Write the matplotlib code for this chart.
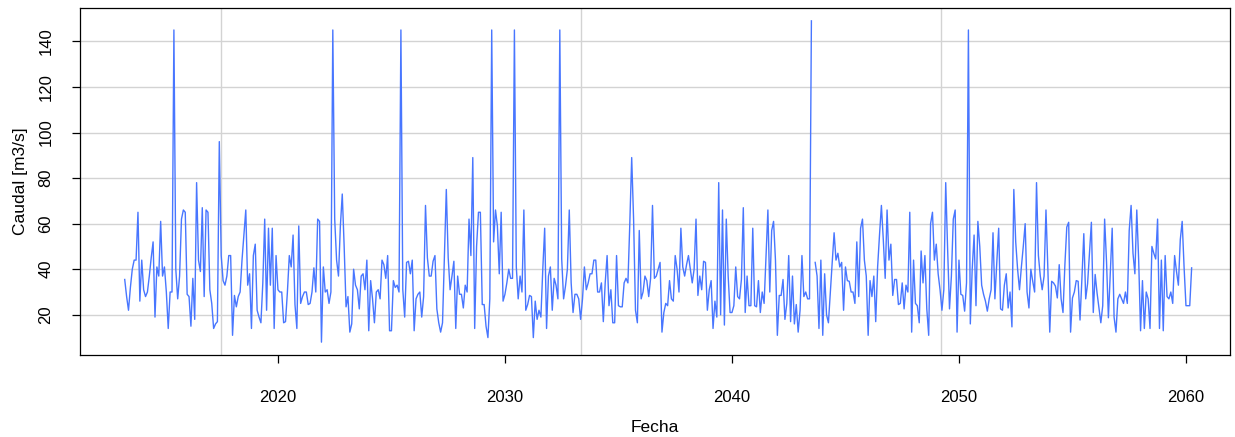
import matplotlib
matplotlib.use("Agg")
import matplotlib.pyplot as plt
import numpy as np

# Serie mensual de caudal, abril 2013 - abril 2060
inicio_anio = 2013
inicio_mes = 4

caudal = [
    35.5, 28, 22, 32, 40, 44, 44, 65, 26, 44, 31, 28, 30, 37, 45, 52, 19, 41, 37, 61, 37, 41, 30, 14, 30,
    30, 145, 40, 27, 37, 62, 66, 65, 29, 28, 15, 36, 18, 78, 44, 39, 67, 28, 66, 65,
    31, 25, 14, 16, 17, 96, 46, 35, 33, 37, 46, 46, 11, 28.5, 23.5, 28, 30, 44, 55, 66, 33, 38, 14, 46,
    51, 22, 19, 16.5, 34, 62, 22, 58, 33, 58, 14, 46, 31, 30, 30, 16.5, 17, 30, 46, 41, 55, 24.5, 14, 59,
    25, 28, 30, 30, 24.5, 25, 30, 40.6, 30, 62, 61, 8, 41, 30, 31, 25, 30, 145, 62, 44, 37, 59, 73, 50,
    23.5, 28, 12.4, 16, 40, 33, 31, 22.6, 37, 38, 31, 44, 13, 35, 27, 16.5, 30, 31, 27, 44, 42, 36, 46, 13,
    13, 35, 32, 33, 30, 145, 31, 19, 43, 43.5, 38, 44, 13, 27, 29, 30, 19, 28, 68, 45, 37, 37, 43.5, 46,
    22.6, 16.5, 12.4, 16.5, 45, 75, 45, 31, 37, 43.5, 14, 37, 29, 29, 23, 33, 30, 62, 46, 89, 14, 50, 65,
    65, 24.5, 24.5, 15, 10, 27, 145, 52, 66, 59, 38, 65, 26, 29, 34, 40, 36, 36, 145, 41, 27, 37, 30, 66,
    22, 24.5, 28.5, 28, 10, 26, 18, 22, 19, 40, 58, 14, 37, 41, 22, 36, 33, 27, 145, 44.5, 27, 32.6, 40, 66,
    34, 21, 29, 29, 27, 18, 27, 41, 31, 34, 38, 38, 44, 44, 30, 30, 34, 17, 34, 46, 24, 31, 16.5, 16.5,
    46, 24, 23.5, 23.5, 34, 36, 34, 60, 89, 62, 22, 16.5, 57, 27, 30, 37, 35, 28, 36, 68, 36, 37, 40,
    43, 12.4, 21, 25, 24, 35, 27, 26, 46, 40, 30, 58, 41, 37, 42, 46, 40, 34, 40, 62, 28.5, 37, 31, 43.5,
    43, 22, 31, 35, 14, 26, 19, 78, 20, 66, 15.5, 62, 37, 21, 21, 24, 41, 28, 27, 35.5, 67, 21, 37, 24,
    24, 58, 24, 23.5, 35, 21, 30, 25, 45, 66, 30, 57, 61, 44, 11, 28.5, 28.5, 35.5, 18, 25, 46, 17, 37, 16,
    24.5, 12.4, 22, 46, 28, 30, 27, 27, 149, np.nan, 43, 37, 14, 44, 11, 38, 20, 16.5, 30, 43, 56, 44, 47, 41,
    43, 22, 41, 35, 34.7, 30, 30, 25, 52, 28, 58, 62, 44, 37, 11, 35, 28, 37, 17, 41, 55, 68, 53, 36,
    66, 44, 51, 28.5, 35.5, 35.5, 24.5, 25, 34, 22.6, 33, 30, 65, 12.4, 44, 25, 24, 16.5, 48, 34, 46, 22.6, 11,
    60, 65, 44, 51, 38, 31, 22, 31, 78, 49, 22.6, 37, 62, 66, 12.4, 44, 29, 28.5, 21.6, 34, 145, 16, 40, 55,
    24, 61, 50, 33, 29, 26, 21.6, 27, 31, 56, 27, 43, 58, 22.6, 22, 33, 38, 23, 30, 14.7, 75, 52, 40, 31,
    41, 50, 60, 30, 23, 40, 34.7, 30, 78, 46, 37, 31, 37, 66, 40, 12.4, 34.7, 34, 32.6, 27.4, 42, 27, 21, 42,
    58.5, 60.6, 12.4, 27.4, 30, 35, 34.7, 17.7, 36, 55.6, 27, 33.7, 47, 60.6, 21, 37.7, 29.6, 23, 16.5, 24, 62, 43.5, 18.7,
    38, 58, 19, 12.4, 27, 29, 27, 25, 30, 25, 57, 68, 47, 38, 66, 44, 13, 35, 14, 30, 27, 14,
    50, 47, 44.5, 62, 14, 44, 13, 46, 28, 27, 30, 25, 46, 39, 33, 53, 61, 41, 24, 24, 24, 40.6,
]

anios_ticks = [2020, 2030, 2040, 2050, 2060]
caudal_ticks = [20, 40, 60, 80, 100, 120, 140]
grid_x = [2017.49, 2033.35, 2049.2]   # rejilla vertical como en el original
limites_x = (2011.28, 2061.94)

azul = "#4876FF"
gris = "#d3d3d3"

plt.rcParams["font.family"] = ["Liberation Sans", "DejaVu Sans"]

caudal = np.array(caudal, dtype=float)
fecha = inicio_anio + (inicio_mes - 1) / 12 + np.arange(len(caudal)) / 12

fig = plt.figure(figsize=(12.35, 4.37), dpi=100)
ax = fig.add_axes([80 / 1235, 1 - 355 / 437, 1150 / 1235, 347 / 437])

# rejilla
for y in caudal_ticks:
    ax.axhline(y, color=gris, lw=1, zorder=0)
for x in grid_x:
    ax.axvline(x, color=gris, lw=1, zorder=0)

ax.plot(fecha, caudal, color=azul, lw=1.0, zorder=2)

ax.set_xlim(*limites_x)
y0, y1 = np.nanmin(caudal), np.nanmax(caudal)
dy = (y1 - y0) * 0.04
ax.set_ylim(y0 - dy, y1 + dy)

ax.set_xticks(anios_ticks)
ax.set_yticks(caudal_ticks)
ax.tick_params(axis="both", direction="out", length=6, width=0.9, labelsize=12, color="black")
ax.tick_params(axis="x", pad=19)
ax.tick_params(axis="y", pad=13)
for lab in ax.get_yticklabels():
    lab.set_rotation(90)
    lab.set_va("center")

for s in ax.spines.values():
    s.set_color("black")
    s.set_linewidth(0.9)

ax.set_xlabel("Fecha", fontsize=12.5, labelpad=11)
ax.set_ylabel("Caudal [m3/s]", fontsize=12.5, labelpad=8)

fig.savefig("out.png", dpi=100)
